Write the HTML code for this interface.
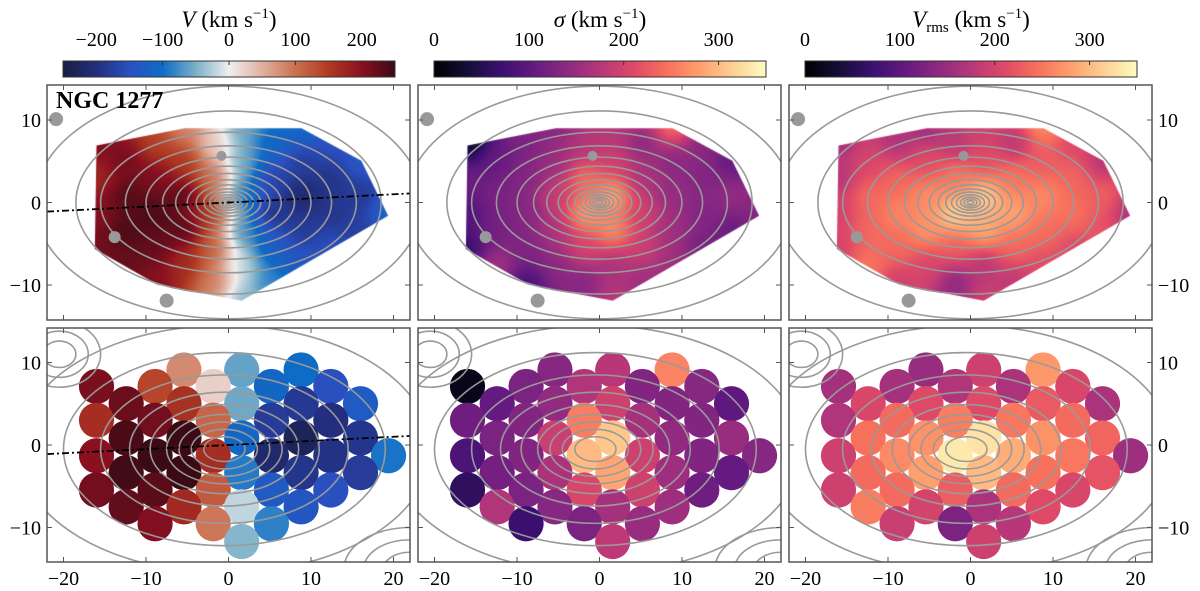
<!DOCTYPE html>
<html><head><meta charset="utf-8">
<style>
html,body{margin:0;padding:0;background:#fff;}
#wrap{position:relative;width:1200px;height:591px;overflow:hidden;font-family:"Liberation Serif",serif;}
canvas{position:absolute;}
svg{position:absolute;left:0;top:0;}
</style></head>
<body>
<div id="wrap">
<canvas id="map0" width="363" height="235" style="left:47px;top:85px"></canvas>
<canvas id="map1" width="363" height="235" style="left:418px;top:85px"></canvas>
<canvas id="map2" width="363" height="235" style="left:789px;top:85px"></canvas>
<svg id="fig" width="1200" height="591"></svg>
</div>
<script>
// ---- data ----
const binX=[-5.4,1.6,8.8, -16,-8.9,-1.85,5.2,12.4, -12.4,-5.4,1.6,8.8,16, -16,-8.9,-1.85,5.2,12.4, -12.4,-5.4,1.6,8.8,16, -16,-8.9,-1.85,5.2,12.4,19.4, -12.4,-5.4,1.6,8.8,16, -16,-8.9,-1.85,5.2,12.4, -12.4,-5.4,1.6,8.8, -8.9,-1.85,5.2, 1.6];
const binY=[9.1,9.1,9.1, 7.1,7.1,7.1,7.1,7.1, 5,5,5,5,5, 3,3,3,3,3, 0.85,0.85,0.85,0.85,0.85, -1.3,-1.3,-1.3,-1.3,-1.3,-1.3, -3.35,-3.35,-3.35,-3.35,-3.35, -5.45,-5.45,-5.45,-5.45,-5.45, -7.5,-7.5,-7.5,-7.5, -9.55,-9.55,-9.55, -11.7];
const velValues=[80,-60,-100, 210,140,25,-110,-150, 220,160,-55,-185,-130, 165,215,110,-180,-200, 240,250,-110,-230,-190, 200,250,165,-215,-195,-95, 245,250,-90,-190,-180, 215,230,120,-130,-150, 225,170,-20,-140, 205,95,-85, -45];
const sigmaValues=[135,175,260, 15,125,170,130,135, 105,145,195,130,100, 115,130,255,160,130, 125,190,310,145,150, 85,130,300,195,130,135, 120,165,285,155,105, 60,125,205,195,115, 170,135,160,155, 70,125,150, 180];
const vrmsValues=[150,195,275, 160,160,170,165,205, 205,210,210,225,165, 170,240,255,250,240, 245,270,330,270,235, 195,265,335,290,250,155, 240,280,300,245,220, 195,240,230,240,205, 255,200,165,210, 190,125,175, 195];
const xTicks=[-20,-10,0,10,20];
const yTicks=[-10,0,10];
const velCbTicks=[-200,-100,0,100,200];
const posCbTicks=[0,100,200,300];
const hullX=[-16,-5.3,8.85,16.1,19.35,1.6,-8.7,-16.2];
const hullY=[6.9,9.0,9.0,5.05,-1.6,-11.9,-9.9,-5.65];

// ---- colormaps ----
const balance=[[0,'#191c41'],[0.1,'#232f7e'],[0.2,'#2a50c0'],[0.3,'#0e6cc6'],[0.4,'#7ab0c8'],[0.5,'#f0eeee'],[0.6,'#e0b0a0'],[0.7,'#cc7050'],[0.8,'#b03a22'],[0.9,'#8a1020'],[1,'#3a0a15']];
const magma=[[0,'#000004'],[0.1,'#140e36'],[0.2,'#3b0f70'],[0.3,'#641a80'],[0.4,'#8c2981'],[0.5,'#b73779'],[0.6,'#de4968'],[0.7,'#f7705c'],[0.8,'#fe9f6d'],[0.9,'#fecf92'],[1,'#fcfdbf']];
function hex(h){return [parseInt(h.substr(1,2),16),parseInt(h.substr(3,2),16),parseInt(h.substr(5,2),16)];}
function cmap(stops,t){t=Math.max(0,Math.min(1,t));for(let i=1;i<stops.length;i++){if(t<=stops[i][0]){const a=hex(stops[i-1][1]),b=hex(stops[i][1]);const f=(t-stops[i-1][0])/(stops[i][0]-stops[i-1][0]);return [0,1,2].map(k=>Math.round(a[k]+(b[k]-a[k])*f));}}return hex(stops[stops.length-1][1]);}
function rgb(c){return 'rgb('+c.join(',')+')';}

const panels=[
 {left:47,vals:velValues,cm:balance,vmin:-250,vmax:250,ticks:velCbTicks},
 {left:418,vals:sigmaValues,cm:magma,vmin:0,vmax:350,ticks:posCbTicks},
 {left:789,vals:vrmsValues,cm:magma,vmin:0,vmax:350,ticks:posCbTicks}];
const W=363,S=8.25,topY=85,topH=235,botY=328,botH=234;
function xs(p,x){return p.left+W/2+x*S;}
function ysTop(y){return topY+topH/2-y*S;}
function ysBot(y){return botY+botH/2-y*S;}

// ---- top maps (smooth IDW interpolation of bins, clipped to hull) ----
panels.forEach((p,pi)=>{
 const cv=document.getElementById('map'+pi),ctx=cv.getContext('2d');
 const img=ctx.createImageData(W,topH);
 for(let j=0;j<topH;j++)for(let i=0;i<W;i++){
  const x=(i-W/2)/S,y=(topH/2-j)/S;let sw=0,sv=0;
  for(let k=0;k<binX.length;k++){const d2=(x-binX[k])**2+(y-binY[k])**2+6;const w=1/(d2*d2);sw+=w;sv+=w*p.vals[k];}
  const c=cmap(p.cm,(sv/sw-p.vmin)/(p.vmax-p.vmin));const o=(j*W+i)*4;img.data[o]=c[0];img.data[o+1]=c[1];img.data[o+2]=c[2];img.data[o+3]=255;}
 const tmp=document.createElement('canvas');tmp.width=W;tmp.height=topH;tmp.getContext('2d').putImageData(img,0,0);
 ctx.save();ctx.beginPath();hullX.forEach((hx,k)=>{const px=W/2+hx*S,py=topH/2-hullY[k]*S;k?ctx.lineTo(px,py):ctx.moveTo(px,py);});ctx.closePath();ctx.clip();ctx.drawImage(tmp,0,0);ctx.restore();
});

// ---- SVG ----
const NS='http://www.w3.org/2000/svg',svg=document.getElementById('fig');
function el(tag,attrs,parent){const e=document.createElementNS(NS,tag);for(const k in attrs)e.setAttribute(k,attrs[k]);(parent||svg).appendChild(e);return e;}
const defs=el('defs',{});
const topA=[0.4,0.8,1.2,1.7,2.3,3.0,3.9,5.0,6.4,8.0,10.0,12.5,15.5,18.5,23.5];
const botA=[2.5,4,5.5,7,9,11.5,15,19.5,25];
const FS=20;

panels.forEach((p,pi)=>{
 const cpT=el('clipPath',{id:'ct'+pi},defs);el('rect',{x:p.left,y:topY,width:W,height:topH},cpT);
 const cpB=el('clipPath',{id:'cb'+pi},defs);el('rect',{x:p.left,y:botY,width:W,height:botH},cpB);
 const g=el('linearGradient',{id:'g'+pi,x1:0,x2:1,y1:0,y2:0},defs);
 p.cm.forEach(s=>el('stop',{offset:s[0],'stop-color':s[1]},g));
 const cbL=p.left+16,cbW=332;
 const cb=el('rect',{x:cbL,y:61,width:cbW,height:16,fill:'url(#g'+pi+')',stroke:'#333','stroke-width':1});
 
 p.ticks.forEach(t=>{const x=cbL+(t-p.vmin)/(p.vmax-p.vmin)*cbW;el('line',{x1:x,x2:x,y1:61,y2:65,stroke:'#333'});
  const tx=el('text',{x:x,y:46,'font-size':FS,'text-anchor':'middle',fill:'#000'});tx.textContent=t<0?'−'+(-t):String(t);
  });
 const tt=el('text',{x:cbL+cbW/2,y:27,'font-size':23,'text-anchor':'middle',fill:'#000'});
 
 if(pi==0)tt.innerHTML='<tspan font-style="italic">V</tspan> (km s<tspan dy="-9" font-size="15">−1</tspan><tspan dy="9">)</tspan>';
 else if(pi==1)tt.innerHTML='<tspan font-style="italic">σ</tspan> (km s<tspan dy="-9" font-size="15">−1</tspan><tspan dy="9">)</tspan>';
 else tt.innerHTML='<tspan font-style="italic">V</tspan><tspan dy="5" font-size="15">rms</tspan><tspan dy="-5"> (km s</tspan><tspan dy="-9" font-size="15">−1</tspan><tspan dy="9">)</tspan>';

 const gt=el('g',{'clip-path':'url(#ct'+pi+')',fill:'none',stroke:'#999','stroke-width':1.6});
 
 topA.forEach((a,k)=>{const q=k>12?0.6:0.55;el('ellipse',{cx:xs(p,0),cy:ysTop(0),rx:a*S,ry:a*q*S},gt);});
 [[-20.9,10.1,7],[-0.85,5.65,5],[-13.8,-4.2,6],[-7.5,-11.9,7]].forEach(s=>el('circle',{cx:xs(p,s[0]),cy:ysTop(s[1]),r:s[2],fill:'#999',stroke:'none'},gt));
 const gb=el('g',{'clip-path':'url(#cb'+pi+')'});
 binX.forEach((bx,k)=>{const c=el('circle',{cx:xs(p,bx),cy:ysBot(binY[k]),r:17.6,fill:rgb(cmap(p.cm,(p.vals[k]-p.vmin)/(p.vmax-p.vmin)))},gb);
  });
 const gc=el('g',{'clip-path':'url(#cb'+pi+')',fill:'none',stroke:'#999','stroke-width':1.6});
 
 botA.forEach(a=>el('ellipse',{cx:xs(p,-0.5),cy:ysBot(-0.5),rx:a*S,ry:a*0.6*S},gc));
 [2,3.5,5].forEach(r=>el('ellipse',{cx:xs(p,-20.5),cy:ysBot(11),rx:r*S,ry:r*0.8*S},gc));
 [2,3.5,5].forEach(r=>el('ellipse',{cx:xs(p,22),cy:ysBot(-15),rx:r*1.6*S,ry:r*S},gc));
 if(pi==0){[ysTop,ysBot].forEach(f=>{const l=el('line',{x1:xs(p,-22),y1:f(-1.1),x2:xs(p,22),y2:f(1.1),stroke:'#000','stroke-width':1.8,'stroke-dasharray':'7,3,2,3'});
  });}
 [[topY,topH,ysTop],[botY,botH,ysBot]].forEach((r,ri)=>{
  const fr=el('rect',{x:p.left,y:r[0],width:W,height:r[1],fill:'none',stroke:'#555','stroke-width':1.5});
  
  xTicks.forEach(t=>{const x=xs(p,t);el('line',{x1:x,x2:x,y1:r[0],y2:r[0]+5,stroke:'#555'});el('line',{x1:x,x2:x,y1:r[0]+r[1],y2:r[0]+r[1]-5,stroke:'#555'});});
  yTicks.forEach(t=>{const y=r[2](t);el('line',{x1:p.left,x2:p.left+5,y1:y,y2:y,stroke:'#555'});el('line',{x1:p.left+W,x2:p.left+W-5,y1:y,y2:y,stroke:'#555'});
   if(pi==0){const tx=el('text',{x:41,y:y+7,'font-size':FS,'text-anchor':'end'});tx.textContent=t<0?'−'+(-t):String(t);}
   if(pi==2){const tx=el('text',{x:1158,y:y+7,'font-size':FS,'text-anchor':'start'});tx.textContent=t<0?'−'+(-t):String(t);}
  });
 });
 xTicks.forEach(t=>{const tx=el('text',{x:xs(p,t),y:585,'font-size':FS,'text-anchor':'middle'});tx.textContent=t<0?'−'+(-t):String(t);
  });
});
const nm=el('text',{x:56,y:108,'font-size':24,'font-weight':'bold',fill:'#000'});nm.textContent='NGC 1277';

</script>
</body></html>
